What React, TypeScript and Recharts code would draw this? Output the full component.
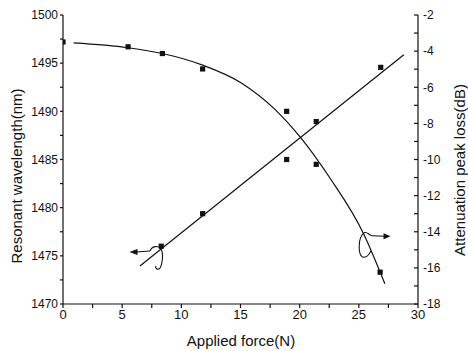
import React from "react";
import {
  ComposedChart,
  Line,
  Scatter,
  XAxis,
  YAxis,
} from "recharts";

// measured points
const force = [0, 5.5, 8.4, 11.8, 18.9, 21.4, 26.8];
const wavelength = [1497.2, 1496.7, 1496.0, 1494.4, 1490.0, 1484.5, 1473.3];
const lossForce = [8.3, 11.8, 18.9, 21.4, 26.85];
const loss = [-14.8, -13.0, -10.0, -7.9, -4.9];

// fitted curves
const wlFitForce = [0.9, 5.5, 8.4, 11.8, 15, 18, 20, 22.6, 25.4, 27.2];
const wlFit = [1497.1, 1496.6, 1496.0, 1494.8, 1493.0, 1490.1, 1487.4, 1483.0, 1477.3, 1472.1];
const lossFitForce = [6.5, 28.8];
const lossFit = [-15.9, -4.2];

const xTicks = [0, 2.5, 5, 7.5, 10, 12.5, 15, 17.5, 20, 22.5, 25, 27.5, 30];
const leftTicks = [1470, 1472.5, 1475, 1477.5, 1480, 1482.5, 1485, 1487.5, 1490, 1492.5, 1495, 1497.5, 1500];
const rightTicks = [-18, -17, -16, -15, -14, -13, -12, -11, -10, -9, -8, -7, -6, -5, -4, -3, -2];

const zip = (xs: number[], ys: number[]) => xs.map((x, i) => ({ x, y: ys[i] }));

const wlPoints = zip(force, wavelength);
const lossPoints = zip(lossForce, loss);
const wlCurve = zip(wlFitForce, wlFit);
const lossLine = zip(lossFitForce, lossFit);

// where the curly "which axis" markers sit
const leftMarker = [{ x: 7.35, y: 1475.5 }];
const rightMarker = [{ x: 25.36, y: 1477.3 }];

const FONT = "'Liberation Sans', Arial, sans-serif";
const tickStyle = { fill: "#111", fontSize: 12, fontFamily: FONT };

const Square = (p: any) => (
  <rect x={p.cx - 2.6} y={p.cy - 2.6} width={5.2} height={5.2} fill="#111" />
);

const LeftMarker = (p: any) => (
  <g transform={`translate(${p.cx},${p.cy})`} fill="none" stroke="#111" strokeWidth={1.1}>
    <path d="M0,0 L-14,1" />
    <path d="M-19,1 L-13,-1.2 L-13,3.2 Z" fill="#111" />
    <path d="M0,0 C2,-5 8,-6 11,-2 C14,3 12,14 10,17 C8,19 5,18 6,15" />
  </g>
);

const RightMarker = (p: any) => (
  <g transform={`translate(${p.cx},${p.cy})`} fill="none" stroke="#111" strokeWidth={1.1}>
    <path d="M0,0 C3,-4 6,2 9,2 L22,2.5" />
    <path d="M26,2.5 L21,0.3 L21,4.7 Z" fill="#111" />
    <path d="M0,0 C-5,5 -5,20 -1,23 C3,25 6,21 8,17" />
  </g>
);

export default function App() {
  return (
    <div style={{ position: "absolute", left: 0, top: 0, width: 468, height: 351, background: "#fff" }}>
      <ComposedChart width={468} height={351} margin={{ top: 15, right: 0, bottom: 0, left: 0 }}>
        <XAxis
          dataKey="x"
          type="number"
          domain={[0, 30]}
          ticks={xTicks}
          tickFormatter={(v: number) => (v % 5 === 0 ? String(v) : "")}
          height={47}
          stroke="#111"
          strokeWidth={1.2}
          tickSize={4}
          tickMargin={2}
          tick={{ ...tickStyle, fontSize: 13 }}
          allowDataOverflow
        />
        <XAxis
          xAxisId="top"
          orientation="top"
          dataKey="x"
          type="number"
          domain={[0, 30]}
          ticks={xTicks}
          tickFormatter={() => ""}
          height={0}
          stroke="#111"
          strokeWidth={1.2}
          tickSize={-4}
        />
        <YAxis
          yAxisId="left"
          dataKey="y"
          type="number"
          domain={[1470, 1500]}
          ticks={leftTicks}
          tickFormatter={(v: number) => (v % 5 === 0 ? String(v) : "")}
          width={63}
          stroke="#111"
          strokeWidth={1.2}
          tickSize={3}
          tickMargin={2}
          tick={tickStyle}
          allowDataOverflow
        />
        <YAxis
          yAxisId="right"
          orientation="right"
          dataKey="y"
          type="number"
          domain={[-18, -2]}
          ticks={rightTicks}
          tickFormatter={(v: number) => (v % 2 === 0 ? String(v) : "")}
          width={50}
          stroke="#111"
          strokeWidth={1.2}
          tickSize={-4}
          tickMargin={9}
          tick={tickStyle}
          allowDataOverflow
        />
        <Line
          yAxisId="left"
          data={wlCurve}
          dataKey="y"
          type="monotone"
          stroke="#111"
          strokeWidth={1.2}
          dot={false}
          activeDot={false}
          isAnimationActive={false}
        />
        <Line
          yAxisId="right"
          data={lossLine}
          dataKey="y"
          type="linear"
          stroke="#111"
          strokeWidth={1.2}
          dot={false}
          activeDot={false}
          isAnimationActive={false}
        />
        <Scatter yAxisId="left" data={wlPoints} dataKey="y" shape={Square} isAnimationActive={false} />
        <Scatter yAxisId="right" data={lossPoints} dataKey="y" shape={Square} isAnimationActive={false} />
        <Scatter yAxisId="left" data={leftMarker} dataKey="y" shape={LeftMarker} isAnimationActive={false} />
        <Scatter yAxisId="left" data={rightMarker} dataKey="y" shape={RightMarker} isAnimationActive={false} />
      </ComposedChart>
      <svg
        width={468}
        height={351}
        style={{ position: "absolute", left: 0, top: 0, pointerEvents: "none" }}
        fontFamily={FONT}
        fill="#111"
      >
        <text x={16} y={176} fontSize={15} textAnchor="middle" dominantBaseline="central" transform="rotate(-90 16 176)">
          Resonant wavelength(nm)
        </text>
        <text x={459} y={170} fontSize={15} textAnchor="middle" dominantBaseline="central" transform="rotate(-90 459 170)">
          Attenuation peak loss(dB)
        </text>
        <text x={241} y={340} fontSize={15} textAnchor="middle" dominantBaseline="central">
          Applied force(N)
        </text>
      </svg>
    </div>
  );
}
